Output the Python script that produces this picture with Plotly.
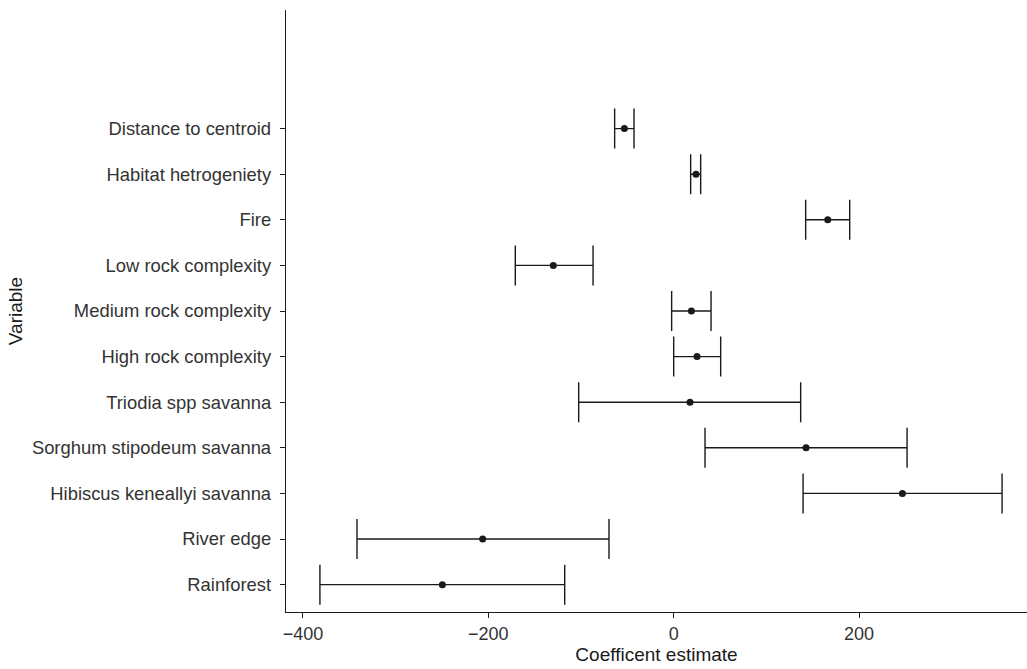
import plotly.graph_objects as go

categories = ["Rainforest", "River edge", "Hibiscus keneallyi savanna",
              "Sorghum stipodeum savanna", "Triodia spp savanna",
              "High rock complexity", "Medium rock complexity",
              "Low rock complexity", "Fire", "Habitat hetrogeniety",
              "Distance to centroid"]
estimate = [-249.6, -206.1, 246.8, 142.8, 17.6, 25.2, 19.1, -129.9, 166.2, 24.1, -53.2]
lower = [-381.7, -341.7, 139.6, 33.8, -102.5, 0.0, -2.2, -170.9, 142.4, 18.3, -63.7]
upper = [-117.6, -69.8, 354.3, 251.8, 137.0, 50.7, 40.3, -87.0, 189.9, 29.1, -42.8]
x_ticks = [-400, -200, 0, 200]
x_tick_labels = ["\u2212400", "\u2212200", "0", "200"]

ypos = list(range(1, len(categories) + 1))
plus = [u - e for u, e in zip(upper, estimate)]
minus = [e - l for e, l in zip(estimate, lower)]

ink = "#1a1a1a"
fig = go.Figure()
fig.add_trace(go.Scatter(
    x=estimate, y=ypos, mode="markers",
    marker=dict(color=ink, size=7),
    error_x=dict(type="data", symmetric=False, array=plus, arrayminus=minus,
                 color=ink, thickness=1.4, width=20),
    showlegend=False,
))

font = "Liberation Sans, Arial, sans-serif"
fig.update_layout(
    width=1027, height=669,
    margin=dict(l=286, r=0, t=10, b=57),
    plot_bgcolor="white", paper_bgcolor="white",
    font=dict(family=font, color=ink),
    xaxis=dict(range=[-418.3, 381.2], tickvals=x_ticks, ticktext=x_tick_labels,
               showgrid=False, zeroline=False, showline=True, linecolor=ink,
               linewidth=1.4, ticks="outside", ticklen=5, tickcolor=ink,
               tickwidth=1.2, tickfont=dict(size=18, color="#333333"),
               ticklabelstandoff=0,
               title=dict(text="Coefficent estimate", font=dict(size=19), standoff=2)),
    yaxis=dict(range=[0.4, 13.6], tickvals=ypos, ticktext=categories,
               showgrid=False, zeroline=False, showline=True, linecolor=ink,
               linewidth=1.4, ticks="outside", ticklen=5, tickcolor=ink,
               tickwidth=1.2, tickfont=dict(size=18.4, color="#333333"),
               ticklabelstandoff=5,
               title=dict(text="Variable", font=dict(size=19), standoff=4)),
)

fig.write_html("out.html")
